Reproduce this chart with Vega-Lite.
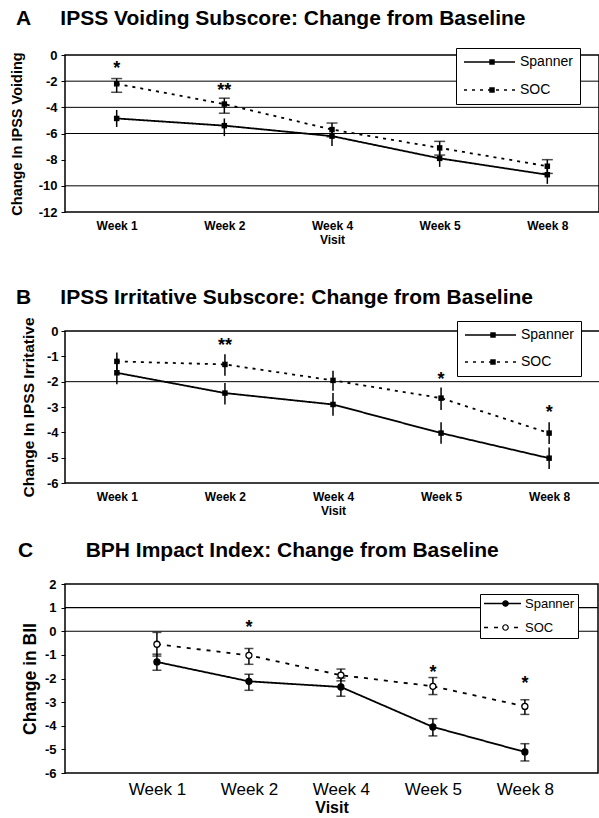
{
  "$schema": "https://vega.github.io/schema/vega-lite/v6.json",
  "background": "white",
  "padding": {"left": 8, "top": 6, "right": 1, "bottom": 2},
  "spacing": 22,
  "resolve": {
    "scale": {"strokeDash": "independent", "shape": "independent", "fill": "independent"},
    "legend": {"strokeDash": "independent", "shape": "independent", "fill": "independent"}
  },
  "config": {
    "font": "Liberation Sans",
    "view": {"stroke": "black", "strokeWidth": 1.5},
    "axis": {"domain": false, "grid": false, "labelColor": "black", "titleColor": "black", "tickColor": "black", "labelFont": "Liberation Sans", "titleFont": "Liberation Sans", "labelOverlap": false},
    "title": {"font": "Liberation Sans", "fontSize": 21, "fontWeight": "bold", "anchor": "start", "frame": "group", "color": "black"}
  },
  "datasets": {
    "A": [
      {"visit": "Week 1", "series": "Spanner", "y": -4.85, "lo": -5.5, "hi": -4.2},
      {"visit": "Week 2", "series": "Spanner", "y": -5.4, "lo": -6.2, "hi": -4.85},
      {"visit": "Week 4", "series": "Spanner", "y": -6.2, "lo": -6.95, "hi": -5.5},
      {"visit": "Week 5", "series": "Spanner", "y": -7.9, "lo": -8.55, "hi": -7.15},
      {"visit": "Week 8", "series": "Spanner", "y": -9.15, "lo": -9.85, "hi": -8.4},
      {"visit": "Week 1", "series": "SOC", "y": -2.2, "lo": -2.85, "hi": -1.8},
      {"visit": "Week 2", "series": "SOC", "y": -3.75, "lo": -4.45, "hi": -3.3},
      {"visit": "Week 4", "series": "SOC", "y": -5.7, "lo": -6.25, "hi": -5.2},
      {"visit": "Week 5", "series": "SOC", "y": -7.1, "lo": -7.65, "hi": -6.6},
      {"visit": "Week 8", "series": "SOC", "y": -8.5, "lo": -9.05, "hi": -8.0}
    ],
    "Astars": [
      {"visit": "Week 1", "y": -0.65, "label": "*"},
      {"visit": "Week 2", "y": -2.4, "label": "**"}
    ],
    "Agrid": [{"g": -2}, {"g": -4}, {"g": -6}, {"g": -10}],
    "B": [
      {"visit": "Week 1", "series": "Spanner", "y": -1.65, "lo": -2.1, "hi": -1.2},
      {"visit": "Week 2", "series": "Spanner", "y": -2.45, "lo": -2.9, "hi": -2.05},
      {"visit": "Week 4", "series": "Spanner", "y": -2.9, "lo": -3.35, "hi": -2.45},
      {"visit": "Week 5", "series": "Spanner", "y": -4.03, "lo": -4.45, "hi": -3.6},
      {"visit": "Week 8", "series": "Spanner", "y": -5.02, "lo": -5.45, "hi": -4.6},
      {"visit": "Week 1", "series": "SOC", "y": -1.2, "lo": -1.6, "hi": -0.85},
      {"visit": "Week 2", "series": "SOC", "y": -1.32, "lo": -1.77, "hi": -0.92},
      {"visit": "Week 4", "series": "SOC", "y": -1.95, "lo": -2.36, "hi": -1.57},
      {"visit": "Week 5", "series": "SOC", "y": -2.65, "lo": -3.12, "hi": -2.23},
      {"visit": "Week 8", "series": "SOC", "y": -4.03, "lo": -4.46, "hi": -3.6}
    ],
    "Bstars": [
      {"visit": "Week 2", "y": -0.38, "label": "**"},
      {"visit": "Week 5", "y": -1.72, "label": "*"},
      {"visit": "Week 8", "y": -3.05, "label": "*"}
    ],
    "Bgrid": [{"g": -2}],
    "C": [
      {"visit": "Week 1", "series": "Spanner", "y": -1.3, "lo": -1.65, "hi": -0.97},
      {"visit": "Week 2", "series": "Spanner", "y": -2.12, "lo": -2.5, "hi": -1.82},
      {"visit": "Week 4", "series": "Spanner", "y": -2.36, "lo": -2.75, "hi": -1.98},
      {"visit": "Week 5", "series": "Spanner", "y": -4.05, "lo": -4.43, "hi": -3.7},
      {"visit": "Week 8", "series": "Spanner", "y": -5.11, "lo": -5.49, "hi": -4.76},
      {"visit": "Week 1", "series": "SOC", "y": -0.55, "lo": -1.05, "hi": -0.05},
      {"visit": "Week 2", "series": "SOC", "y": -1.02, "lo": -1.4, "hi": -0.73},
      {"visit": "Week 4", "series": "SOC", "y": -1.86, "lo": -2.1, "hi": -1.6},
      {"visit": "Week 5", "series": "SOC", "y": -2.33, "lo": -2.68, "hi": -1.96},
      {"visit": "Week 8", "series": "SOC", "y": -3.18, "lo": -3.52, "hi": -2.9}
    ],
    "Cstars": [
      {"visit": "Week 2", "y": 0.37, "label": "*"},
      {"visit": "Week 5", "y": -1.55, "label": "*"},
      {"visit": "Week 8", "y": -2.0, "label": "*"}
    ],
    "Cgrid": [{"g": 1}, {"g": 0}]
  },
  "vconcat": [
    {
      "width": 534,
      "height": 157,
      "title": {"text": "A\u00a0\u00a0\u00a0\u00a0\u00a0IPSS Voiding Subscore: Change from Baseline", "dx": -49, "offset": 19},
      "encoding": {
        "x": {"field": "visit", "type": "ordinal", "sort": ["Week 1", "Week 2", "Week 4", "Week 5", "Week 8"], "scale": {"type": "point", "padding": 0.48},
          "axis": {"title": ["Visit", "\u00a0"], "titleLineHeight": 18, "labelAngle": 0, "ticks": false, "labelFontSize": 12, "labelFontWeight": "bold", "titleFontSize": 12, "titleFontWeight": "bold", "labelPadding": 8, "titlePadding": 3}}
      },
      "layer": [
        {
          "data": {"name": "Agrid"},
          "mark": {"type": "rule", "color": "black", "strokeWidth": 1},
          "encoding": {"x": null, "y": {"field": "g", "type": "quantitative", "title": "Change In IPSS Voiding", "scale": {"domain": [-12, 0], "nice": false},
            "axis": {"values": [0, -2, -4, -6, -8, -10, -12], "tickCount": 20, "labelExpr": "'' + datum.value", "labelOverlap": false, "tickSize": 4, "labelPadding": 4, "labelFontSize": 13, "labelFontWeight": "bold", "titleFontSize": 14.5, "titleFontWeight": "bold", "titleX": -48, "titleBaseline": "middle"}}}
        },
        {
          "data": {"name": "A"},
          "mark": {"type": "line", "color": "black", "strokeWidth": 1.8},
          "encoding": {
            "y": {"field": "y", "type": "quantitative", "title": "Change In IPSS Voiding", "scale": {"domain": [-12, 0], "nice": false},
              "axis": {"values": [0, -2, -4, -6, -8, -10, -12], "tickCount": 20, "labelExpr": "'' + datum.value", "labelOverlap": false, "tickSize": 4, "labelPadding": 4, "labelFontSize": 13, "labelFontWeight": "bold", "titleFontSize": 14.5, "titleFontWeight": "bold", "titleX": -48, "titleBaseline": "middle"}},
            "strokeDash": {"field": "series", "type": "nominal", "scale": {"domain": ["Spanner", "SOC"], "range": [[1, 0], [3, 5]]},
              "legend": {"orient": "none", "legendX": 391, "legendY": -7, "zindex": 1, "title": null, "strokeColor": "black", "fillColor": "white", "padding": 7, "symbolType": "stroke", "symbolSize": 2601, "clipHeight": 14, "labelOffset": 4, "symbolStrokeColor": "black", "symbolStrokeWidth": 1.6, "labelFontSize": 14, "labelColor": "black", "rowPadding": 14}}
          }
        },
        {
          "data": {"name": "A"},
          "mark": {"type": "rule", "color": "black", "strokeWidth": 1.5},
          "encoding": {"y": {"field": "lo", "type": "quantitative", "title": "Change In IPSS Voiding"}, "y2": {"field": "hi"}}
        },
        {
          "data": {"name": "A"},
          "transform": [{"filter": "datum.series === 'SOC'"}],
          "mark": {"type": "tick", "color": "black", "size": 11, "thickness": 1.5},
          "encoding": {"y": {"field": "lo", "type": "quantitative", "title": "Change In IPSS Voiding"}}
        },
        {
          "data": {"name": "A"},
          "transform": [{"filter": "datum.series === 'SOC'"}],
          "mark": {"type": "tick", "color": "black", "size": 11, "thickness": 1.5},
          "encoding": {"y": {"field": "hi", "type": "quantitative", "title": "Change In IPSS Voiding"}}
        },
        {
          "data": {"name": "A"},
          "mark": {"type": "point", "filled": true, "color": "black", "size": 30, "opacity": 1},
          "encoding": {
            "y": {"field": "y", "type": "quantitative", "title": "Change In IPSS Voiding"},
            "shape": {"field": "series", "type": "nominal", "scale": {"domain": ["SOC", "Spanner"], "range": ["square", "square"]},
              "legend": {"values": ["Spanner", "SOC"], "orient": "none", "legendX": 391, "legendY": -7, "zindex": 2, "title": null, "strokeColor": "transparent", "fillColor": "transparent", "padding": 7, "symbolSize": 30, "clipHeight": 14, "symbolOffset": 22, "symbolFillColor": "black", "symbolStrokeColor": "black", "symbolStrokeWidth": 0, "labelFontSize": 14, "labelOpacity": 0, "rowPadding": 14}}
          }
        },
        {
          "data": {"name": "Astars"},
          "mark": {"type": "text", "fontSize": 18, "fontWeight": "bold", "color": "black", "baseline": "middle", "dy": 5},
          "encoding": {"y": {"field": "y", "type": "quantitative", "title": "Change In IPSS Voiding"}, "text": {"field": "label"}}
        }
      ]
    },
    {
      "width": 536,
      "height": 152,
      "title": {"text": "B\u00a0\u00a0\u00a0\u00a0\u00a0IPSS Irritative Subscore: Change from Baseline", "dx": -49, "offset": 9},
      "encoding": {
        "x": {"field": "visit", "type": "ordinal", "sort": ["Week 1", "Week 2", "Week 4", "Week 5", "Week 8"], "scale": {"type": "point", "padding": 0.48},
          "axis": {"title": "Visit", "labelAngle": 0, "ticks": false, "labelFontSize": 12, "labelFontWeight": "bold", "titleFontSize": 12, "titleFontWeight": "bold", "labelPadding": 8, "titlePadding": 3}}
      },
      "layer": [
        {
          "data": {"name": "Bgrid"},
          "mark": {"type": "rule", "color": "black", "strokeWidth": 1},
          "encoding": {"x": null, "y": {"field": "g", "type": "quantitative", "title": "Change In IPSS Irritative", "scale": {"domain": [-6, 0], "nice": false},
            "axis": {"values": [0, -1, -2, -3, -4, -5, -6], "tickCount": 20, "labelExpr": "'' + datum.value", "labelOverlap": false, "tickSize": 4, "labelPadding": 3, "labelFontSize": 13, "labelFontWeight": "bold", "titleFontSize": 15.5, "titleFontWeight": "bold", "titleX": -37, "titleBaseline": "middle"}}}
        },
        {
          "data": {"name": "B"},
          "mark": {"type": "line", "color": "black", "strokeWidth": 1.8},
          "encoding": {
            "y": {"field": "y", "type": "quantitative", "title": "Change In IPSS Irritative", "scale": {"domain": [-6, 0], "nice": false},
              "axis": {"values": [0, -1, -2, -3, -4, -5, -6], "tickCount": 20, "labelExpr": "'' + datum.value", "labelOverlap": false, "tickSize": 4, "labelPadding": 3, "labelFontSize": 13, "labelFontWeight": "bold", "titleFontSize": 15.5, "titleFontWeight": "bold", "titleX": -37, "titleBaseline": "middle"}},
            "strokeDash": {"field": "series", "type": "nominal", "scale": {"domain": ["Spanner", "SOC"], "range": [[1, 0], [3, 5]]},
              "legend": {"orient": "none", "legendX": 392, "legendY": -10, "zindex": 1, "title": null, "strokeColor": "black", "fillColor": "white", "padding": 7, "symbolType": "stroke", "symbolSize": 2601, "clipHeight": 14, "labelOffset": 4, "symbolStrokeColor": "black", "symbolStrokeWidth": 1.6, "labelFontSize": 14, "labelColor": "black", "rowPadding": 13}}
          }
        },
        {
          "data": {"name": "B"},
          "mark": {"type": "rule", "color": "black", "strokeWidth": 1.5},
          "encoding": {"y": {"field": "lo", "type": "quantitative", "title": "Change In IPSS Irritative"}, "y2": {"field": "hi"}}
        },
        {
          "data": {"name": "B"},
          "mark": {"type": "point", "filled": true, "color": "black", "size": 30, "opacity": 1},
          "encoding": {
            "y": {"field": "y", "type": "quantitative", "title": "Change In IPSS Irritative"},
            "shape": {"field": "series", "type": "nominal", "scale": {"domain": ["SOC", "Spanner"], "range": ["square", "square"]},
              "legend": {"values": ["Spanner", "SOC"], "orient": "none", "legendX": 392, "legendY": -10, "zindex": 2, "title": null, "strokeColor": "transparent", "fillColor": "transparent", "padding": 7, "symbolSize": 30, "clipHeight": 14, "symbolOffset": 22, "symbolFillColor": "black", "symbolStrokeColor": "black", "symbolStrokeWidth": 0, "labelFontSize": 14, "labelOpacity": 0, "rowPadding": 13}}
          }
        },
        {
          "data": {"name": "Bstars"},
          "mark": {"type": "text", "fontSize": 18, "fontWeight": "bold", "color": "black", "baseline": "middle", "dy": 5},
          "encoding": {"y": {"field": "y", "type": "quantitative", "title": "Change In IPSS Irritative"}, "text": {"field": "label"}}
        }
      ]
    },
    {
      "width": 533,
      "height": 189,
      "title": {"text": "C\u00a0\u00a0\u00a0\u00a0\u00a0\u00a0\u00a0\u00a0\u00a0BPH Impact Index: Change from Baseline", "dx": -47, "offset": 17},
      "encoding": {
        "x": {"field": "visit", "type": "ordinal", "sort": ["Week 1", "Week 2", "Week 4", "Week 5", "Week 8"], "scale": {"type": "point", "padding": 0.897, "align": 0.557},
          "axis": {"title": "Visit", "labelAngle": 0, "ticks": false, "labelFontSize": 17, "titleFontSize": 16, "titleFontWeight": "bold", "labelPadding": 8, "titlePadding": 2}}
      },
      "layer": [
        {
          "data": {"name": "Cgrid"},
          "mark": {"type": "rule", "color": "black", "strokeWidth": 1.2},
          "encoding": {"x": null, "y": {"field": "g", "type": "quantitative", "title": "Change in BII", "scale": {"domain": [-6, 2], "nice": false},
            "axis": {"values": [2, 1, 0, -1, -2, -3, -4, -5, -6], "tickCount": 20, "labelExpr": "'' + datum.value", "labelOverlap": false, "tickSize": 4, "labelPadding": 5, "labelFontSize": 13, "labelFontWeight": "bold", "titleFontSize": 17.5, "titleFontWeight": "bold", "titleX": -35, "titleBaseline": "middle"}}}
        },
        {
          "data": {"name": "C"},
          "mark": {"type": "line", "color": "black", "strokeWidth": 1.8},
          "encoding": {
            "y": {"field": "y", "type": "quantitative", "title": "Change in BII", "scale": {"domain": [-6, 2], "nice": false},
              "axis": {"values": [2, 1, 0, -1, -2, -3, -4, -5, -6], "tickCount": 20, "labelExpr": "'' + datum.value", "labelOverlap": false, "tickSize": 4, "labelPadding": 5, "labelFontSize": 13, "labelFontWeight": "bold", "titleFontSize": 17.5, "titleFontWeight": "bold", "titleX": -35, "titleBaseline": "middle"}},
            "strokeDash": {"field": "series", "type": "nominal", "scale": {"domain": ["Spanner", "SOC"], "range": [[1, 0], [4, 6]]},
              "legend": {"orient": "none", "legendX": 415, "legendY": 10, "zindex": 1, "title": null, "strokeColor": "black", "fillColor": "white", "padding": 3, "symbolType": "stroke", "symbolSize": 1369, "clipHeight": 13, "labelOffset": 3, "symbolStrokeColor": "black", "symbolStrokeWidth": 1.6, "labelFontSize": 13, "labelColor": "black", "rowPadding": 10}}
          }
        },
        {
          "data": {"name": "C"},
          "mark": {"type": "rule", "color": "black", "strokeWidth": 1.5},
          "encoding": {"y": {"field": "lo", "type": "quantitative", "title": "Change in BII"}, "y2": {"field": "hi"}}
        },
        {
          "data": {"name": "C"},
          "mark": {"type": "tick", "color": "black", "size": 9, "thickness": 1.5},
          "encoding": {"y": {"field": "lo", "type": "quantitative", "title": "Change in BII"}}
        },
        {
          "data": {"name": "C"},
          "mark": {"type": "tick", "color": "black", "size": 9, "thickness": 1.5},
          "encoding": {"y": {"field": "hi", "type": "quantitative", "title": "Change in BII"}}
        },
        {
          "data": {"name": "C"},
          "mark": {"type": "point", "shape": "circle", "stroke": "black", "strokeWidth": 1.3, "size": 36, "opacity": 1},
          "encoding": {
            "y": {"field": "y", "type": "quantitative", "title": "Change in BII"},
            "fill": {"field": "series", "type": "nominal", "scale": {"domain": ["SOC", "Spanner"], "range": ["white", "black"]},
              "legend": {"values": ["Spanner", "SOC"], "orient": "none", "legendX": 415, "legendY": 10, "zindex": 2, "title": null, "strokeColor": "transparent", "fillColor": "transparent", "padding": 3, "symbolType": "circle", "symbolSize": 30, "clipHeight": 13, "symbolOffset": 16, "symbolStrokeColor": "black", "symbolStrokeWidth": 1.2, "labelFontSize": 13, "labelOpacity": 0, "rowPadding": 10}}
          }
        },
        {
          "data": {"name": "Cstars"},
          "mark": {"type": "text", "fontSize": 18, "fontWeight": "bold", "color": "black", "baseline": "middle", "dy": 5},
          "encoding": {"y": {"field": "y", "type": "quantitative", "title": "Change in BII"}, "text": {"field": "label"}}
        }
      ]
    }
  ]
}
